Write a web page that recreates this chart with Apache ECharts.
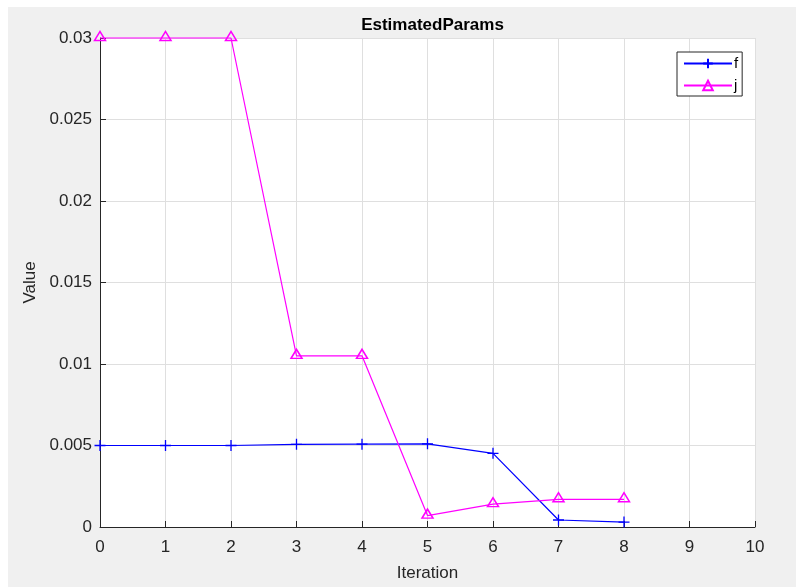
<!DOCTYPE html>
<html>
<head>
<meta charset="utf-8">
<title>EstimatedParams</title>
<script src="https://cdn.jsdelivr.net/npm/echarts@6/dist/echarts.min.js"></script>
<style>
  html, body { margin: 0; padding: 0; background: #ffffff; }
  #chart { position: absolute; left: 8px; top: 7px; width: 788px; height: 580px; }
</style>
</head>
<body>
<div id="chart"></div>
<script>
// Iteration numbers and parameter estimates
const iterations = [0, 1, 2, 3, 4, 5, 6, 7, 8];
const fValues = [0.005, 0.005, 0.005, 0.00507, 0.00508, 0.0051, 0.00452, 0.00043, 0.0003];
const jValues = [0.03, 0.03, 0.03, 0.0105, 0.0105, 0.0007, 0.0014, 0.0017, 0.0017];
const seriesNames = ['f', 'j'];
const yTickLabels = ['0', '0.005', '0.01', '0.015', '0.02', '0.025', '0.03'];

const FONT = '"Liberation Sans", Arial, sans-serif';
const AXIS_COLOR = '#262626';
const GRID_COLOR = '#dfdfdf';

const pairs = (xs, ys) => xs.map((x, i) => [x, ys[i]]);

const chart = echarts.init(document.getElementById('chart'), null, { renderer: 'canvas' });

chart.setOption({
  backgroundColor: '#f0f0f0',
  animation: false,
  textStyle: { fontFamily: FONT },
  title: {
    text: 'EstimatedParams',
    left: 419.5,
    top: 5,
    textAlign: 'center',
    textStyle: { fontFamily: FONT, fontSize: 17, fontWeight: 'bold', color: '#000000' }
  },
  grid: {
    left: 92, top: 31, right: 41, bottom: 60,
    show: true, backgroundColor: '#ffffff', borderWidth: 0
  },
  legend: {
    orient: 'vertical',
    left: 669, top: 45,
    backgroundColor: '#ffffff',
    borderColor: AXIS_COLOR, borderWidth: 1, borderRadius: 0,
    padding: [4, 4, 3, 6],
    itemWidth: 48, itemHeight: 12, itemGap: 7,
    textStyle: { fontFamily: FONT, fontSize: 15, color: '#000000', padding: [0, 0, 0, -3] },
    data: seriesNames
  },
  xAxis: {
    type: 'value',
    min: 0, max: 10, interval: 1,
    name: 'Iteration',
    nameLocation: 'middle',
    nameGap: 38,
    nameTextStyle: { fontFamily: FONT, fontSize: 17, color: AXIS_COLOR },
    axisLine: { show: true, onZero: false, lineStyle: { color: AXIS_COLOR, width: 1 } },
    axisTick: { show: true, inside: true, length: 6, lineStyle: { color: AXIS_COLOR } },
    axisLabel: { fontFamily: FONT, fontSize: 17, color: AXIS_COLOR, margin: 12 },
    splitLine: { show: true, lineStyle: { color: GRID_COLOR, width: 1 } }
  },
  yAxis: {
    type: 'value',
    min: 0, max: 0.03, interval: 0.005,
    name: 'Value',
    nameLocation: 'middle',
    nameGap: 54,
    nameTextStyle: { fontFamily: FONT, fontSize: 17, color: AXIS_COLOR },
    axisLine: { show: true, lineStyle: { color: AXIS_COLOR, width: 1 } },
    axisTick: { show: true, inside: true, length: 6, lineStyle: { color: AXIS_COLOR } },
    axisLabel: {
      fontFamily: FONT, fontSize: 17, color: AXIS_COLOR, margin: 8,
      formatter: (v) => yTickLabels[Math.round(v / 0.005)]
    },
    splitLine: { show: true, lineStyle: { color: GRID_COLOR, width: 1 } }
  },
  series: [
    {
      name: seriesNames[0],
      type: 'line',
      data: pairs(iterations, fValues),
      clip: false,
      symbol: 'path://M5,0L5,10M0,5L10,5',
      symbolSize: 11,
      showAllSymbol: true,
      lineStyle: { color: '#0000ff', width: 1.2 },
      itemStyle: { color: '#0000ff', borderColor: '#0000ff', borderWidth: 1.3 },
      emphasis: { disabled: true },
      z: 3
    },
    {
      name: seriesNames[1],
      type: 'line',
      data: pairs(iterations, jValues),
      clip: false,
      symbol: 'triangle',
      symbolSize: [11, 9],
      symbolOffset: [0, -2],
      showAllSymbol: true,
      lineStyle: { color: '#ff00ff', width: 1.2 },
      itemStyle: { color: 'rgba(255,255,255,0)', borderColor: '#ff00ff', borderWidth: 1.5 },
      emphasis: { disabled: true },
      z: 4
    }
  ]
});
</script>
</body>
</html>
